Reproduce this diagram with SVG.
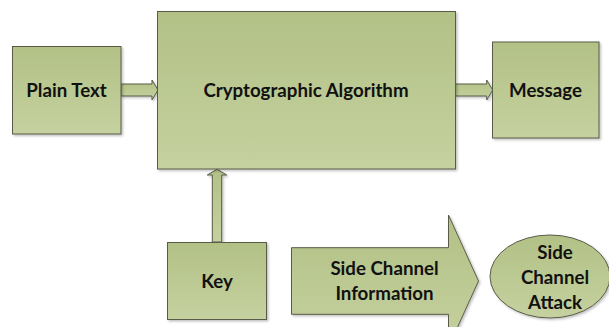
<svg xmlns="http://www.w3.org/2000/svg" width="609" height="327" viewBox="0 0 609 327">
<defs>
<linearGradient id="g" x1="0" y1="0" x2="0" y2="1">
<stop offset="0" stop-color="#b2c186"/>
<stop offset="1" stop-color="#c5d19f"/>
</linearGradient>
<filter id="sh" x="-5%" y="-5%" width="115%" height="115%">
<feDropShadow dx="1.5" dy="1.5" stdDeviation="1" flood-color="#000" flood-opacity="0.25"/>
</filter>
</defs>
<style>
.s{fill:url(#g);stroke:#5a5a48;stroke-width:1;filter:url(#sh)}
.t{font-family:Lato,"Open Sans",sans-serif;font-weight:bold;font-size:18.7px;fill:#111;text-anchor:middle}
</style>
<rect width="609" height="327" fill="#fff"/>
<g id="connectors">
<path class="s" d="M121,84 H152 V80 L158,90 L152,100 V96 H121 Z"/>
<path class="s" d="M455.5,84 H486.7 V80 L492.7,90 L486.7,100 V96 H455.5 Z"/>
<path class="s" d="M212.3,242 V175 H207.3 L217,169.3 L226.7,175 H221.7 V242 Z"/>
</g>
<g id="plain-text">
<rect class="s" x="12.5" y="46.5" width="108.5" height="87.5"/>
<text class="t" x="66.5" y="97">Plain Text</text>
</g>
<g id="crypto">
<rect class="s" x="157.5" y="11.5" width="298" height="157.5"/>
<text class="t" x="306" y="97">Cryptographic Algorithm</text>
</g>
<g id="message">
<rect class="s" x="492.5" y="42" width="106.5" height="96"/>
<text class="t" x="545.5" y="97">Message</text>
</g>
<g id="key">
<rect class="s" x="167.5" y="242.5" width="99" height="77"/>
<text class="t" x="217" y="288">Key</text>
</g>
<g id="side-channel-info">
<path class="s" d="M291.5,247.7 H448.5 V215 L478.5,281 L448.5,347 V314.3 H291.5 Z"/>
<text class="t" x="384.5" y="275">Side Channel</text>
<text class="t" x="384.5" y="300">Information</text>
</g>
<g id="side-channel-attack">
<ellipse class="s" cx="550" cy="276.5" rx="60" ry="41.5"/>
<text class="t" x="555" y="258.5">Side</text>
<text class="t" x="555" y="283.5">Channel</text>
<text class="t" x="555" y="308.5">Attack</text>
</g>
</svg>
